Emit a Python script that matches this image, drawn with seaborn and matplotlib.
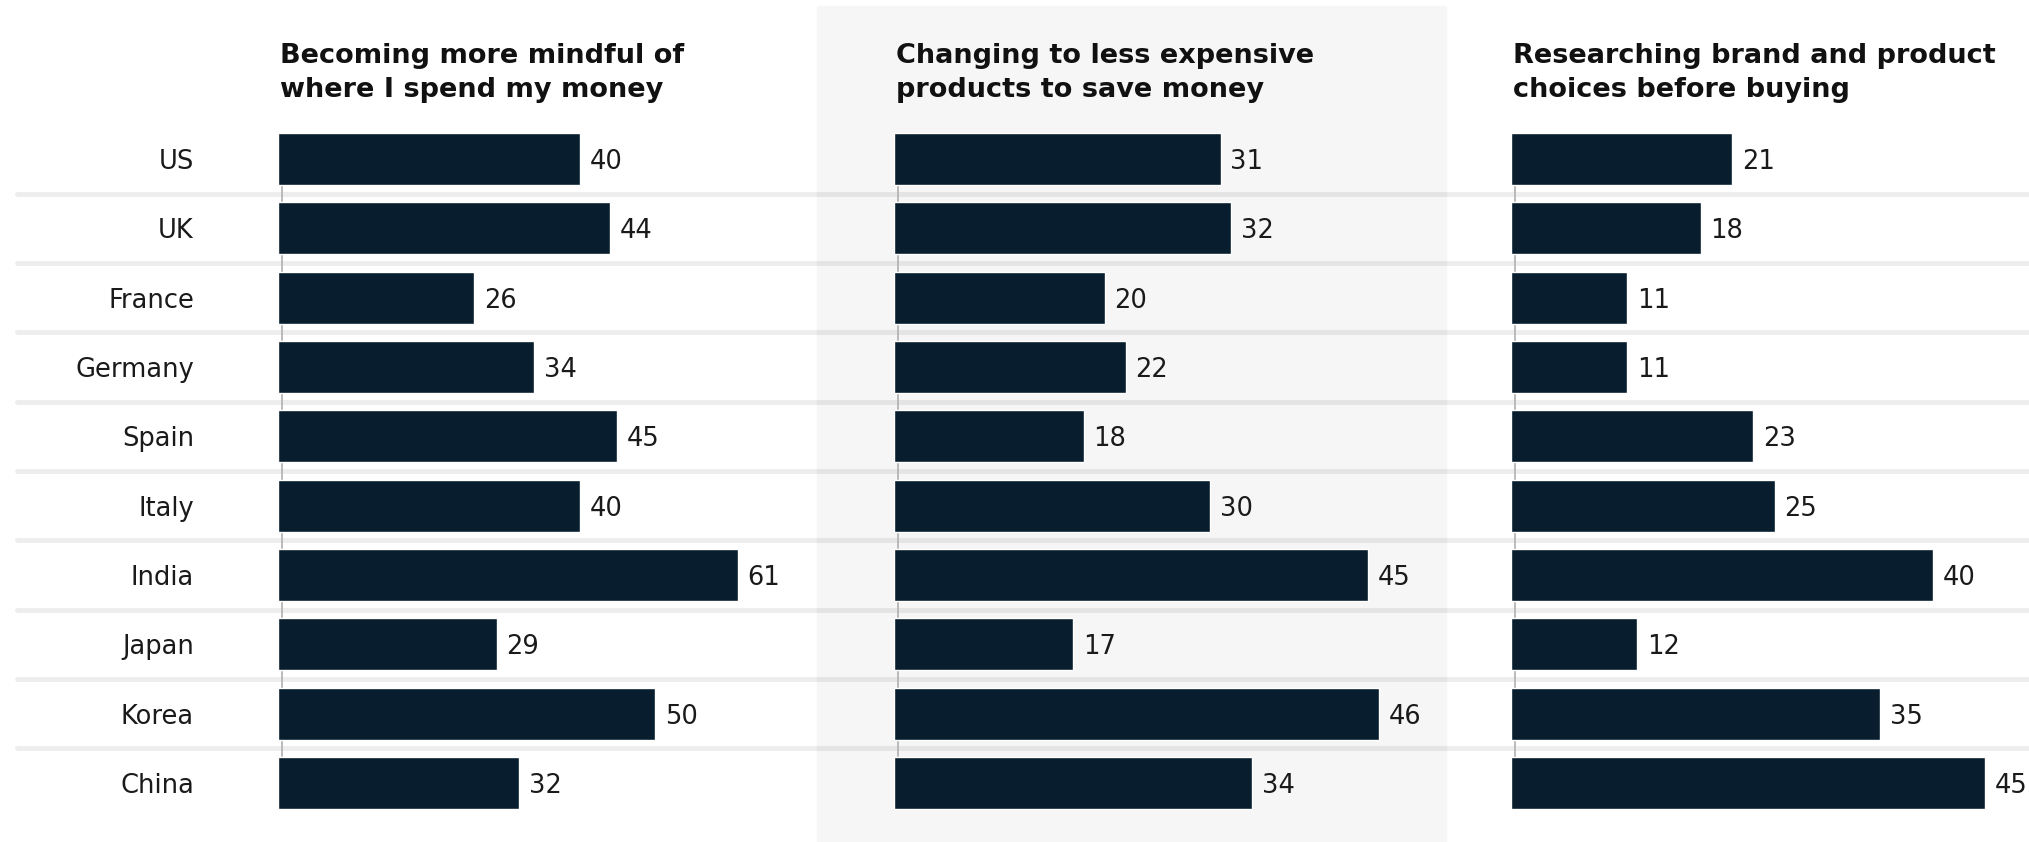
import matplotlib
matplotlib.use("Agg")
import matplotlib.pyplot as plt
import matplotlib.transforms as mtransforms
from matplotlib.patches import Rectangle
import seaborn as sns

countries = ["US", "UK", "France", "Germany", "Spain", "Italy", "India", "Japan", "Korea", "China"]
titles = [
    "Becoming more mindful of\nwhere I spend my money",
    "Changing to less expensive\nproducts to save money",
    "Researching brand and product\nchoices before buying",
]
mindful = [40, 44, 26, 34, 45, 40, 61, 29, 50, 32]
cheaper = [31, 32, 20, 22, 18, 30, 45, 17, 46, 34]
research = [21, 18, 11, 11, 23, 25, 40, 12, 35, 45]

BAR = "#081d2d"
W, H = 2029, 842

sns.set_style("white")
plt.rcParams["font.family"] = ["DejaVu Sans"]

fig = plt.figure(figsize=(W / 100, H / 100), dpi=100)

# grey band behind the middle panel
fig.add_artist(Rectangle((817 / W, 0), (1446 - 817) / W, 1 - 6 / H,
                         transform=fig.transFigure, color="#f6f6f6", zorder=-1))

top, height = 124.3, 693.4
panels = [
    (mindful, 278, 7.54),
    (cheaper, 894, 10.54),
    (research, 1511, 10.54),
]

axes = []
for i, (vals, left, scale) in enumerate(panels):
    width = 600
    ax = fig.add_axes([left / W, 1 - (top + height) / H, width / W, height / H])
    ax.patch.set_visible(False)
    sns.barplot(x=vals, y=countries, orient="h", ax=ax, color=BAR,
                saturation=1, width=0.75, zorder=3)
    ax.set_xlim(0, width / scale)
    ax.set_ylim(len(countries) - 0.5, -0.5)
    # thin axis line behind the bars
    x0 = 3.5 / scale
    ax.plot([x0, x0], [0, len(countries) - 1], color="#b5b5b5", lw=1.3, zorder=2)
    for j, v in enumerate(vals):
        ax.annotate(str(v), xy=(v, j), xytext=(7, 0), textcoords="offset points",
                    ha="left", va="center_baseline", fontsize=18.5, color="#1a1a1a")
    fig.text((left + 2) / W, 1 - 97 / H, titles[i], ha="left", va="baseline",
             fontsize=19.5, fontweight="bold", color="#111111", linespacing=1.4)
    ax.set_xticks([])
    ax.set_xlabel("")
    ax.set_ylabel("")
    sns.despine(ax=ax, left=True, bottom=True)
    if i == 0:
        ax.tick_params(axis="y", length=0, pad=84 * 72 / 100, labelsize=18.5,
                       labelcolor="#1a1a1a")
    else:
        ax.set_yticks([])
    axes.append(ax)

# light separators across the whole figure, between rows
trans = mtransforms.blended_transform_factory(fig.transFigure, axes[0].transData)
for k in range(len(countries) - 1):
    axes[0].plot([17 / W, 1], [k + 0.5, k + 0.5], transform=trans, color="#000000",
                 alpha=0.07, lw=3.5, clip_on=False, zorder=1)

fig.savefig("out.png", dpi=100)
